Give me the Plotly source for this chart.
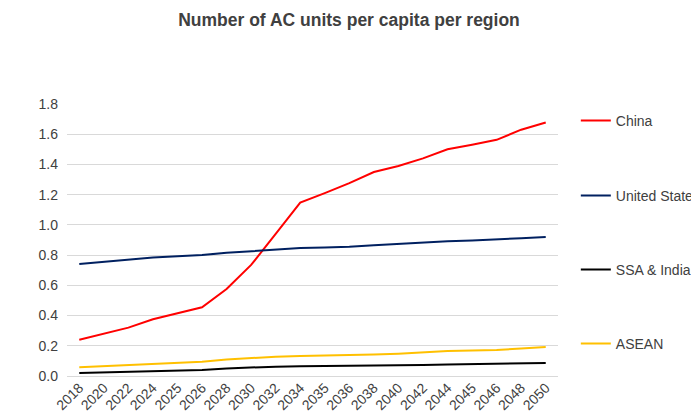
import plotly.graph_objects as go

years = ["2018", "2020", "2022", "2024", "2025", "2026", "2028", "2030", "2032", "2034",
         "2035", "2036", "2038", "2040", "2042", "2044", "2045", "2046", "2048", "2050"]

china = [0.24, 0.28, 0.32, 0.375, 0.415, 0.455, 0.576, 0.735, 0.94, 1.148,
         1.21, 1.276, 1.35, 1.39, 1.44, 1.50, 1.53, 1.563, 1.63, 1.678]
united_states = [0.742, 0.757, 0.772, 0.785, 0.792, 0.80, 0.815, 0.826, 0.837, 0.847,
                 0.851, 0.856, 0.866, 0.876, 0.885, 0.891, 0.897, 0.903, 0.912, 0.92]
ssa_india = [0.02, 0.024, 0.028, 0.032, 0.036, 0.04, 0.05, 0.058, 0.062, 0.064,
             0.065, 0.066, 0.068, 0.07, 0.073, 0.076, 0.078, 0.08, 0.083, 0.086]
asean = [0.058, 0.065, 0.072, 0.08, 0.088, 0.095, 0.11, 0.12, 0.127, 0.132,
         0.134, 0.136, 0.142, 0.148, 0.157, 0.165, 0.168, 0.172, 0.182, 0.192]

FONT = "Liberation Sans, Arial"

series = [
    ("China", china, "#FF0000", "legend", 0.9375),
    ("United States", united_states, "#002060", "legend2", 0.6618),
    ("SSA & India", ssa_india, "#000000", "legend3", 0.3897),
    ("ASEAN", asean, "#FFC000", "legend4", 0.1176),
]

fig = go.Figure()
legends = {}
for name, vals, color, leg, ly in series:
    fig.add_trace(go.Scatter(
        x=years, y=vals, name=name, mode="lines",
        line=dict(color=color, width=2),
        legend=leg,
    ))
    legends[leg] = dict(
        x=1.0363, y=ly, xanchor="left", yanchor="middle",
        bgcolor="rgba(0,0,0,0)", itemwidth=30,
        font=dict(family=FONT, size=14, color="#404040"),
    )

# page body has an 8px margin, so the figure is 8px smaller each way
fig.update_layout(
    width=691, height=411,
    margin=dict(l=59, r=141, t=96, b=43, autoexpand=False),
    paper_bgcolor="white", plot_bgcolor="white",
    title=dict(
        text="<b>Number of AC units per capita per region</b>",
        x=0.4935, xanchor="center", y=0.9708, yanchor="middle",
        font=dict(family=FONT, size=17.5, color="#404040"),
    ),
    showlegend=True,
    **legends,
)
fig.update_xaxes(
    type="category", range=[-0.5, 19.5], tickangle=-45,
    showgrid=False, showline=False, ticks="",
    tickfont=dict(family=FONT, size=14, color="#404040"),
    automargin=False,
)
fig.update_yaxes(
    range=[0, 1.8], dtick=0.2, tickformat=".1f",
    showgrid=True, gridcolor="#D9D9D9", gridwidth=1,
    zeroline=True, zerolinecolor="#D9D9D9", zerolinewidth=1,
    showline=False, ticks="", ticklabelstandoff=8,
    tickfont=dict(family=FONT, size=14, color="#404040"),
    automargin=False,
)

fig.write_html("out.html")
